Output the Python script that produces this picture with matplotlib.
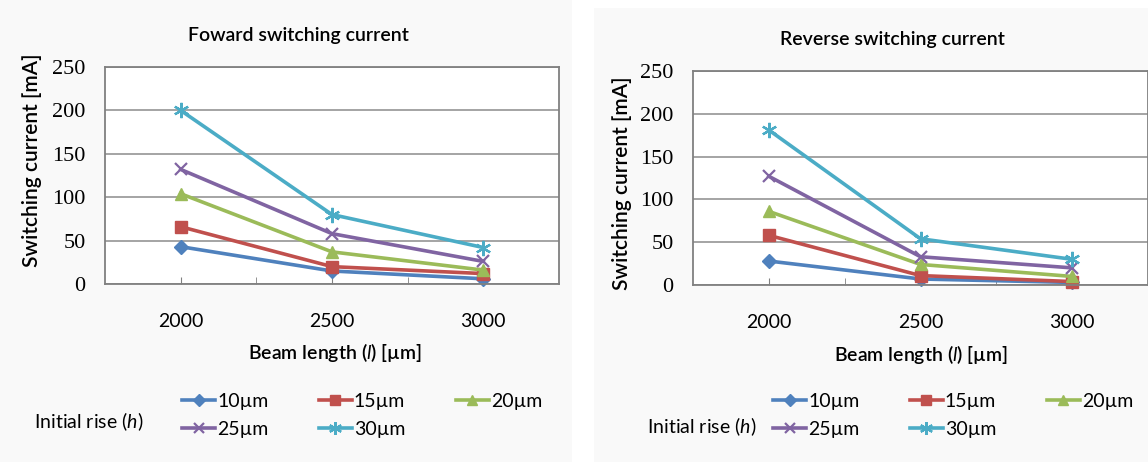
import matplotlib

matplotlib.use("Agg")
import matplotlib.pyplot as plt
from matplotlib.patches import Rectangle
from matplotlib.ticker import FixedLocator, NullFormatter

plt.rcParams["font.family"] = ["Lato", "DejaVu Sans"]
plt.rcParams["mathtext.fontset"] = "custom"
plt.rcParams["mathtext.rm"] = "Lato"
plt.rcParams["mathtext.it"] = "Lato:italic"
plt.rcParams["mathtext.bf"] = "Lato:bold"

# データ
beam_length = [2000, 2500, 3000]
rise_labels = ["10µm", "15µm", "20µm", "25µm", "30µm"]
forward_10 = [43, 15, 6]
forward_15 = [66, 20, 12]
forward_20 = [104, 37, 16]
forward_25 = [132, 58, 26]
forward_30 = [200, 80, 42]
reverse_10 = [28, 7, 3]
reverse_15 = [58, 11, 4]
reverse_20 = [86, 24, 10]
reverse_25 = [127, 33, 20]
reverse_30 = [181, 54, 30]

colors = ["#4F81BD", "#C0504D", "#9BBB59", "#8064A2", "#4BACC6"]
markers = ["D", "s", "^", "x", (6, 2, 0)]
msizes = [7, 8, 8, 9, 11]

W, H = 1148, 462
fig = plt.figure(figsize=(W / 100, H / 100), dpi=100)
fig.patch.set_facecolor("white")
# パネル背景
fig.patches.append(Rectangle((0, 0), 572 / W, 1, transform=fig.transFigure,
                             facecolor="#f9f9f9", edgecolor="none", zorder=-5))
fig.patches.append(Rectangle((594 / W, 0), 1 - 594 / W, 1 - 8 / H, transform=fig.transFigure,
                             facecolor="#f9f9f9", edgecolor="none", zorder=-5))


def fpos(x0, y_top, x1, y_bot):
    return [x0 / W, 1 - y_bot / H, (x1 - x0) / W, (y_bot - y_top) / H]


panels = [
    dict(pos=fpos(105, 67, 559, 284), title="Foward switching current", title_xy=(298, 35),
         ylab_xy=(32, 160), xlab_xy=(335, 352), rise_xy=(89, 422), leg_xy=(182, 393),
         series=[forward_10, forward_15, forward_20, forward_25, forward_30]),
    dict(pos=fpos(693, 71, 1148, 285), title="Reverse switching current", title_xy=(892, 40),
         ylab_xy=(622, 183), xlab_xy=(921, 354), rise_xy=(702, 427), leg_xy=(773, 393),
         series=[reverse_10, reverse_15, reverse_20, reverse_25, reverse_30]),
]

for p in panels:
    ax = fig.add_axes(p["pos"])
    ax.set_facecolor("white")
    lines = []
    for vals, c, m, ms, lab in zip(p["series"], colors, markers, msizes, rise_labels):
        (ln,) = ax.plot(beam_length, vals, color=c, lw=2.6, marker=m, markersize=ms,
                        markeredgewidth=1.6 if m in ("x", (6, 2, 0)) else 1.0,
                        markeredgecolor=c, markerfacecolor=c, label=lab, clip_on=False)
        lines.append(ln)

    ax.set_xlim(1750, 3250)
    ax.set_ylim(0, 250)
    ax.set_yticks([0, 50, 100, 150, 200, 250])
    ax.xaxis.set_major_locator(FixedLocator(beam_length))
    ax.xaxis.set_minor_locator(FixedLocator([2250, 2750]))
    ax.xaxis.set_minor_formatter(NullFormatter())
    ax.tick_params(axis="x", which="both", direction="in", length=5, color="#808080",
                   pad=21, labelsize=14)
    ax.tick_params(axis="y", length=0, pad=14)
    for lab in ax.get_yticklabels():
        lab.set_fontfamily("Liberation Serif")
        lab.set_fontsize(16)
    ax.grid(axis="y", color="#8c8c8c", lw=1.1)
    ax.set_axisbelow(True)
    for s in ax.spines.values():
        s.set_color("#808080")
        s.set_linewidth(1.3)

    fig.text(p["title_xy"][0] / W, 1 - p["title_xy"][1] / H, p["title"],
             ha="center", va="center", fontsize=14, fontweight="semibold")
    fig.text(p["ylab_xy"][0] / W, 1 - p["ylab_xy"][1] / H, "Switching current [mA]",
             ha="center", va="center", rotation=90, fontsize=15, fontweight="semibold")
    fig.text(p["xlab_xy"][0] / W, 1 - p["xlab_xy"][1] / H, r"Beam length ($\it{l}$) [µm]",
             ha="center", va="center", fontsize=14, fontweight="semibold")
    fig.text(p["rise_xy"][0] / W, 1 - p["rise_xy"][1] / H, r"Initial rise ($\it{h}$)",
             ha="center", va="center", fontsize=14)

    # 行方向に並べるため順序を入れ替え
    order = [0, 3, 1, 4, 2]
    fig.legend([lines[i] for i in order], [rise_labels[i] for i in order],
               loc="upper left", bbox_to_anchor=(p["leg_xy"][0] / W, 1 - p["leg_xy"][1] / H),
               ncol=3, frameon=False, fontsize=14, handlelength=1.7, handletextpad=0.1,
               columnspacing=2.6, labelspacing=0.55, borderpad=0, borderaxespad=0,
               markerscale=0.85)

fig.savefig("out.png", dpi=100)
